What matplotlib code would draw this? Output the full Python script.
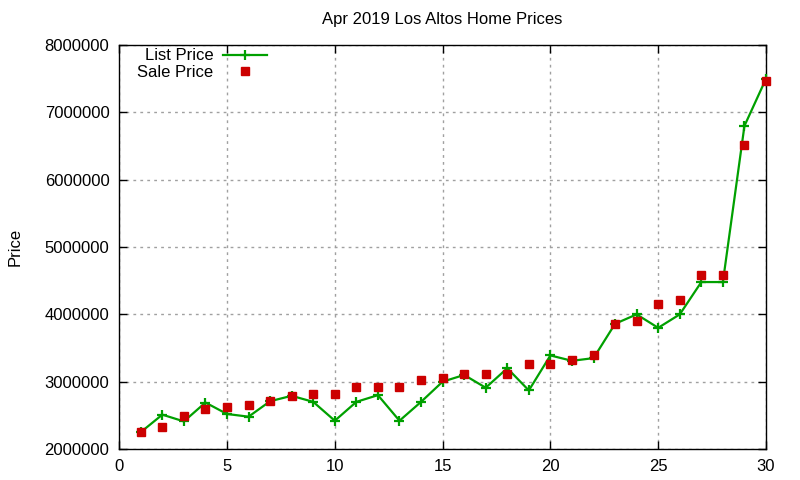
import matplotlib
matplotlib.use('Agg')
import matplotlib.pyplot as plt

days = list(range(1, 31))
list_price = [2250000, 2510000, 2410000, 2690000, 2520000, 2480000, 2710000, 2790000, 2700000, 2420000,
              2700000, 2800000, 2420000, 2700000, 3000000, 3100000, 2910000, 3200000, 2870000, 3390000,
              3310000, 3350000, 3860000, 4000000, 3800000, 4000000, 4480000, 4480000, 6800000, 7500000]
sale_price = [2250000, 2320000, 2490000, 2600000, 2630000, 2660000, 2710000, 2780000, 2810000, 2820000,
              2920000, 2920000, 2920000, 3030000, 3060000, 3110000, 3110000, 3110000, 3260000, 3260000,
              3320000, 3400000, 3850000, 3900000, 4150000, 4210000, 4590000, 4590000, 6510000, 7460000]

plt.rcParams['font.family'] = ['Liberation Sans', 'DejaVu Sans']
plt.rcParams['font.size'] = 12

fig = plt.figure(figsize=(8, 4.8), dpi=100)
ax = fig.add_axes([0.149, 0.0646, 0.8085, 0.8414])

ax.plot(days, list_price, color='#00a000', lw=1.6, marker='+', ms=7, mew=1.6, label='List Price',
        clip_on=False, zorder=3)
ax.plot(days, sale_price, ls='none', marker='s', ms=6, color='#cc0000', label='Sale Price',
        clip_on=False, zorder=4)

ax.set_xlim(0, 30)
ax.set_ylim(2000000, 8000000)
ax.set_xticks(range(0, 31, 5))
ax.set_yticks(range(2000000, 8000001, 1000000))
ax.ticklabel_format(style='plain', useOffset=False)
ax.tick_params(direction='in', top=True, right=True, length=6, width=1, pad=7)
ax.grid(True, color='#a0a0a0', ls=(0, (2, 3)), lw=1)
for s in ax.spines.values():
    s.set_linewidth(1)

ax.set_title('Apr 2019 Los Altos Home Prices', fontsize=12, pad=15)
ax.set_ylabel('Price', labelpad=16)

ax.legend(loc='upper right', bbox_to_anchor=(0.233, 1.0), markerfirst=False, frameon=False,
          handlelength=2.6, borderaxespad=0, borderpad=0.2, labelspacing=0.1, handletextpad=0.6)

fig.savefig('out.png', dpi=100)
